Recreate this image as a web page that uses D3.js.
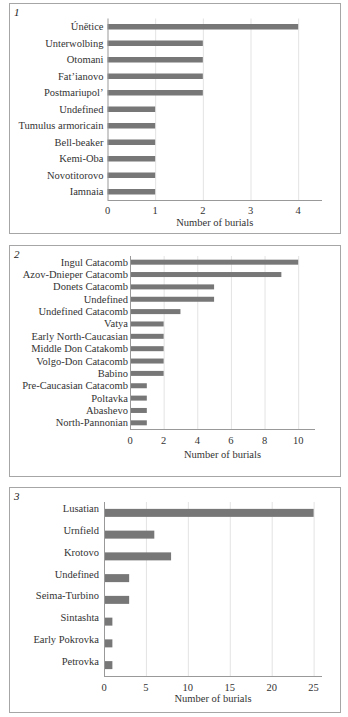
<!DOCTYPE html>
<html><head><meta charset="utf-8">
<script src="https://cdn.jsdelivr.net/npm/d3@7"></script>
<style>body{margin:0;background:#fff}svg{display:block}text{font-family:"Liberation Serif","Times New Roman",serif}</style>
</head><body>
<svg id="c" width="348" height="717"></svg>
<script>
const cats1 = ["Únětice","Unterwolbing","Otomani","Fat’ianovo","Postmariupol’","Undefined","Tumulus armoricain","Bell-beaker","Kemi-Oba","Novotitorovo","Iamnaia"];
const vals1 = [4,2,2,2,2,1,1,1,1,1,1];
const ticks1 = [0,1,2,3,4];

const cats2 = ["Ingul Catacomb","Azov-Dnieper Catacomb","Donets Catacomb","Undefined","Undefined Catacomb","Vatya","Early North-Caucasian","Middle Don Catakomb","Volgo-Don Catacomb","Babino","Pre-Caucasian Catacomb","Poltavka","Abashevo","North-Pannonian"];
const vals2 = [10,9,5,5,3,2,2,2,2,2,1,1,1,1];
const ticks2 = [0,2,4,6,8,10];

const cats3 = ["Lusatian","Urnfield","Krotovo","Undefined","Seima-Turbino","Sintashta","Early Pokrovka","Petrovka"];
const vals3 = [25,6,8,3,3,1,1,1];
const ticks3 = [0,5,10,15,20,25];

const axisTitle = "Number of burials";

const svg = d3.select("#c");

function panel(o){
  const g = svg.append("g");
  g.append("rect").attr("x",o.box[0]+0.5).attr("y",o.box[1]+0.5)
    .attr("width",o.box[2]-o.box[0]).attr("height",o.box[3]-o.box[1])
    .attr("fill","#fff").attr("stroke","#a6a6a6").attr("stroke-width",1);
  g.append("text").attr("x",o.box[0]+5).attr("y",o.box[1]+13)
    .attr("font-style","italic").attr("font-size",11).attr("fill","#222").text(o.num);
  const x = d3.scaleLinear().domain(o.dom).range(o.xr);
  const y = d3.scaleBand().domain(o.cats).range(o.yr).padding(0);
  g.selectAll("line.grid").data(o.ticks.filter(t=>t>0)).join("line")
    .attr("x1",d=>x(d)+0.5).attr("x2",d=>x(d)+0.5)
    .attr("y1",o.yr[0]).attr("y2",o.yr[1])
    .attr("stroke","#e3e3e3").attr("stroke-width",1);
  g.selectAll("rect.bar").data(o.vals).join("rect")
    .attr("x",x(0)).attr("width",d=>x(d)-x(0))
    .attr("y",(d,i)=>y(o.cats[i])+y.bandwidth()/2-o.barH/2+o.barOff)
    .attr("height",o.barH).attr("fill","#777");
  g.append("line").attr("x1",x(0)+0.5).attr("x2",x(0)+0.5).attr("y1",o.yr[0]).attr("y2",o.yr[1])
    .attr("stroke","#999");
  g.append("line").attr("x1",x(0)).attr("x2",o.xr[1]).attr("y1",o.yr[1]+0.5).attr("y2",o.yr[1]+0.5)
    .attr("stroke","#999");
  g.selectAll("text.cat").data(o.cats).join("text")
    .attr("x",x(0)-o.labGap).attr("y",d=>y(d)+y.bandwidth()/2+o.labOff)
    .attr("text-anchor","end").attr("dominant-baseline","central")
    .attr("font-size",o.fs).attr("fill","#333").text(d=>d);
  g.selectAll("text.tick").data(o.ticks).join("text")
    .attr("x",d=>x(d)).attr("y",o.yr[1]+o.tickDy)
    .attr("text-anchor","middle").attr("dominant-baseline","central")
    .attr("font-size",o.fs).attr("fill","#333").text(d=>d);
  g.append("text").attr("x",(x(0)+o.xr[1])/2).attr("y",o.yr[1]+o.titleDy)
    .attr("text-anchor","middle").attr("dominant-baseline","central")
    .attr("font-size",o.fs).attr("fill","#333").text(axisTitle);
}

panel({num:"1",box:[9,3,340,233],cats:cats1,vals:vals1,ticks:ticks1,dom:[0,4.5],xr:[107.5,322],yr:[18.5,200],
  barH:5.5,barOff:0,labGap:4,labOff:0,fs:10.5,tickDy:10,titleDy:22});
panel({num:"2",box:[9,245,340,476],cats:cats2,vals:vals2,ticks:ticks2,dom:[0,11],xr:[130,315],yr:[256,429],
  barH:5,barOff:0,labGap:2,labOff:0,fs:10.5,tickDy:11,titleDy:25});
panel({num:"3",box:[9,487,340,712],cats:cats3,vals:vals3,ticks:ticks3,dom:[0,26],xr:[104,322],yr:[502,676],
  barH:8,barOff:0,labGap:5,labOff:-4,fs:10.5,tickDy:11,titleDy:22});
</script>
</body></html>
